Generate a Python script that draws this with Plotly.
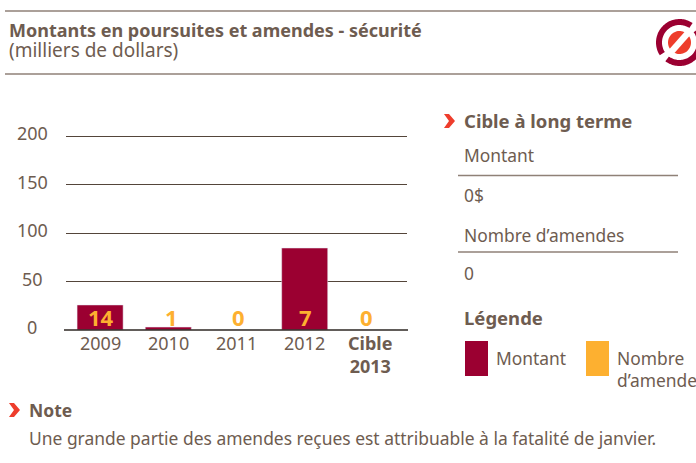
import numpy as np
import plotly.graph_objects as go

W, H = 696, 463
years = ["2009", "2010", "2011", "2012", "Cible 2013"]
year_labels = ["2009", "2010", "2011", "2012", "<b>Cible<br>2013</b>"]
montant = [25.8, 3, 0, 84.5, 0]
amendes = [14, 1, 0, 7, 0]
y_ticks = [0, 50, 100, 150, 200]

TXT = "#6e5c50"
CRIM = "#9b0031"
AMB = "#fdb030"
RED = "#ee3d2c"
RULE = "#8f8177"
GRID = "#54453a"
FONT = "Noto Sans"

px = lambda x: x / W
py = lambda y: 1 - y / H

fig = go.Figure()
fig.add_bar(x=years, y=montant, marker_color=CRIM, width=0.675, showlegend=False, hoverinfo="skip")

shapes, annos = [], []

def rule(x0, x1, y, color=RULE, width=1.3):
    shapes.append(dict(type="line", xref="paper", yref="paper", x0=px(x0), x1=px(x1),
                       y0=py(y), y1=py(y), line=dict(color=color, width=width)))

def label(x, y, text, size=17.4, bold=False, anchor="left", color=TXT):
    annos.append(dict(xref="paper", yref="paper", x=px(x), y=py(y), text=f"<b>{text}</b>" if bold else text,
                      showarrow=False, xanchor=anchor, yanchor="middle", borderpad=0, borderwidth=0,
                      font=dict(family=FONT, size=size, color=color)))

def box(x0, y0, x1, y1, color):
    shapes.append(dict(type="rect", xref="paper", yref="paper", x0=px(x0), x1=px(x1),
                       y0=py(y0), y1=py(y1), fillcolor=color, line_width=0, layer="above"))

def poly(pts, color):
    d = "M" + " L".join(f"{px(x):.5f},{py(y):.5f}" for x, y in pts) + " Z"
    shapes.append(dict(type="path", xref="paper", yref="paper", path=d, fillcolor=color,
                       line_width=0, layer="above"))

def chevron(x, y):
    poly([(x, y - 7), (x + 5, y - 7), (x + 11, y), (x + 5, y + 7), (x, y + 7), (x + 5, y)], RED)

def arc(cx, cy, r0, r1, a0, a1, color):
    t = np.radians(np.linspace(a0, a1, 60))
    outer = [(cx + r1 * np.cos(a), cy - r1 * np.sin(a)) for a in t]
    inner = [(cx + r0 * np.cos(a), cy - r0 * np.sin(a)) for a in t[::-1]]
    poly(outer + inner, color)

# header
rule(5, 696, 11)
rule(5, 696, 74)
label(9, 30, "Montants en poursuites et amendes - sécurité", size=18, bold=True)
label(9, 49.5, "(milliers de dollars)", size=19)

# icon
cx, cy = 679.5, 42.5
arc(cx, cy, 17.5, 23.5, 56, 213, CRIM)
arc(cx, cy, 17.5, 23.5, 233, 396, CRIM)
arc(cx, cy, 0, 11.5, 0, 360, RED)
poly([(cx + 14, cy - 11), (cx + 9, cy - 15), (cx - 14, cy + 11), (cx - 9, cy + 15)], "#ffffff")

# y tick labels, centred like the reference
for v in y_ticks:
    annos.append(dict(xref="paper", yref="y", x=px(32), y=v, yshift=3, text=str(v), showarrow=False,
                      xanchor="center", yanchor="middle", font=dict(family=FONT, size=18, color=TXT)))

# x tick labels (category axis: annotation x is the category's serial number)
for i, (txt, dx) in enumerate(zip(year_labels, [0, 0, 0, 0, -3])):
    annos.append(dict(xref="x", yref="paper", x=i, y=py(330), xshift=dx, text=txt, showarrow=False,
                      xanchor="center", yanchor="top", borderpad=0,
                      font=dict(family=FONT, size=18, color=TXT)))

# fine counts over the bars
for i, (n, dx) in enumerate(zip(amendes, [1, 3, 2, 1, -6])):
    annos.append(dict(xref="x", yref="y", x=i, y=0, xshift=dx, yshift=13, text=f"<b>{n}</b>", showarrow=False,
                      xanchor="center", yanchor="middle", font=dict(family=FONT, size=22, color=AMB)))

# baseline
rule(64, 408, 330, color="#2e2723", width=1.5)

# right panel
chevron(444, 121)
label(464, 120.5, "Cible à long terme", size=18.5, bold=True)
label(464, 155.5, "Montant")
rule(458, 678, 175.5)
label(464, 194.5, "0$")
label(464, 234.5, "Nombre d’amendes")
rule(458, 678, 252)
label(464, 272.5, "0")
label(464, 317, "Légende", size=18.5, bold=True)
box(465, 341, 488, 376, CRIM)
label(496, 358, "Montant")
box(586, 341, 609, 376, AMB)
label(617, 358, "Nombre")
label(617, 380, "d’amendes")

# note
chevron(9, 410)
label(29, 410, "Note", size=17.5, bold=True)
label(29, 437.5, "Une grande partie des amendes reçues est attribuable à la fatalité de janvier.", size=17.45)

fig.update_layout(
    width=W, height=H, autosize=False, margin=dict(l=0, r=0, t=0, b=0),
    paper_bgcolor="white", plot_bgcolor="white", shapes=shapes, annotations=annos,
    xaxis=dict(domain=[px(66), px(407)], type="category", categoryorder="array", categoryarray=years,
               range=[-0.5, 4.5], showgrid=False, showline=False, ticks="", zeroline=False, fixedrange=True,
               showticklabels=False),
    yaxis=dict(domain=[py(330), py(126.3)], range=[0, 210], tickvals=y_ticks, showticklabels=False,
               showgrid=True, gridcolor=GRID, gridwidth=1, zeroline=False, showline=False, ticks="",
               fixedrange=True),
    font=dict(family=FONT, color=TXT),
)
fig.write_html("out.html", config=dict(displayModeBar=False),
               post_script="document.body.style.margin='0';document.body.style.overflow='hidden';")
